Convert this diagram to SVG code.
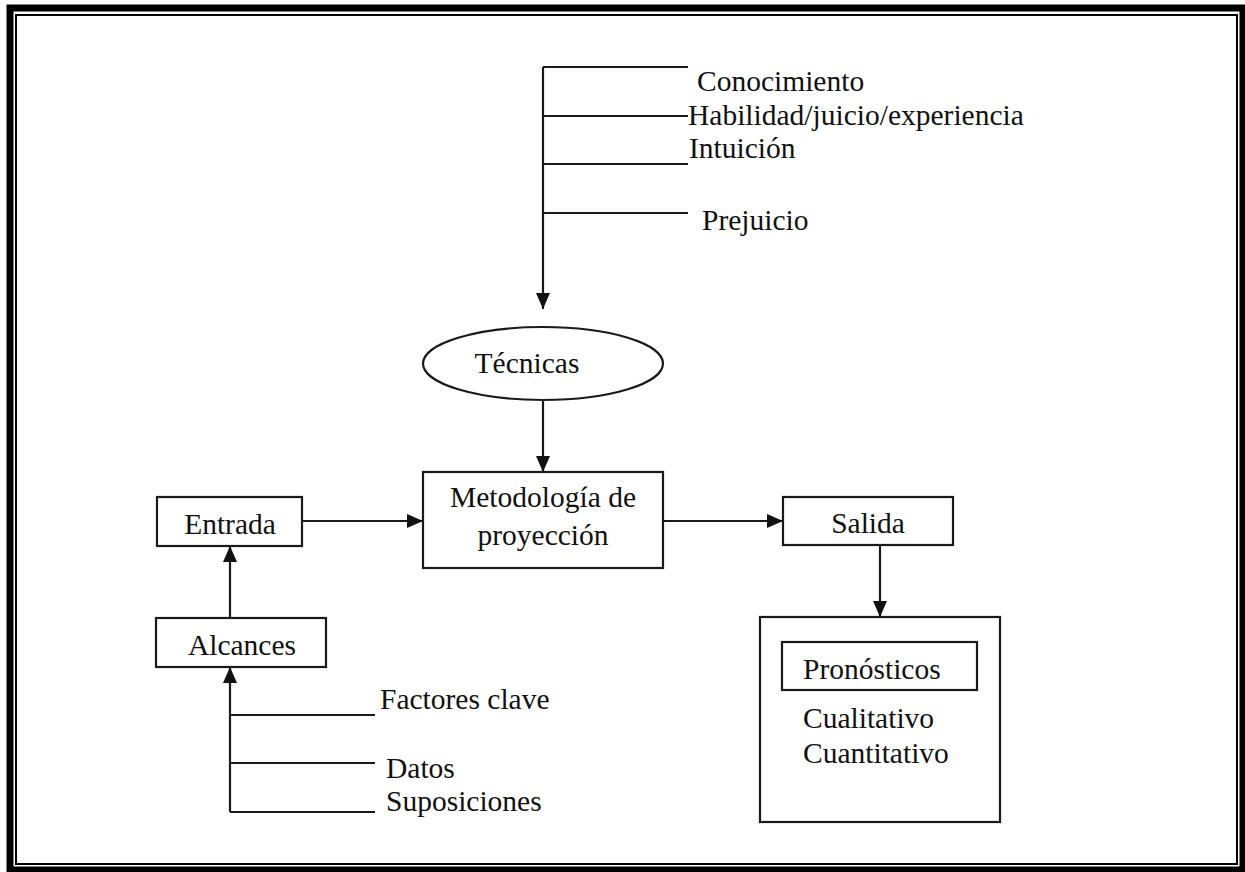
<svg xmlns="http://www.w3.org/2000/svg" width="1245" height="872" viewBox="0 0 1245 872">
  <style>
    .frame-outer { fill: none; stroke: #000; stroke-width: 7; }
    .frame-inner { fill: none; stroke: #000; stroke-width: 2; }
    .box { fill: #fff; stroke: #1a1a1a; stroke-width: 2.2; }
    .line { fill: none; stroke: #1a1a1a; stroke-width: 2.2; }
    .arrow { fill: none; stroke: #1a1a1a; stroke-width: 2.2; marker-end: url(#head); }
    text { font-family: "Liberation Serif", "Times New Roman", serif; font-size: 29.5px; fill: #111; }
    .c { text-anchor: middle; }
  </style>
  <defs>
    <marker id="head" viewBox="0 0 16 14" refX="16" refY="7" markerWidth="16" markerHeight="14" markerUnits="userSpaceOnUse" orient="auto">
      <path d="M0,0 L16,7 L0,14 Z" fill="#111"/>
    </marker>
  </defs>

  <!-- double page frame -->
  <rect class="frame-outer" x="10" y="8" width="1233" height="862"/>
  <rect class="frame-inner" x="16" y="15" width="1221" height="849"/>

  <!-- connectors -->
  <g id="connectors">
    <!-- upper bracket feeding the techniques -->
    <path class="arrow" d="M543,67 L543,309"/>
    <path class="line" d="M543,67 H688 M543,116 H688 M543,164 H688 M543,213 H688"/>
    <path class="arrow" d="M543,400 L543,472"/>
    <path class="arrow" d="M302,521 L423,521"/>
    <path class="arrow" d="M663,521 L783,521"/>
    <path class="arrow" d="M880,545 L880,617"/>
    <path class="arrow" d="M230,618 L230,546"/>
    <!-- lower bracket feeding the scopes -->
    <path class="arrow" d="M230,812 L230,667"/>
    <path class="line" d="M230,715 H375 M230,763 H375 M230,812 H375"/>
  </g>

  <g id="factors-top">
    <text x="697" y="91">Conocimiento</text>
    <text x="688" y="125">Habilidad/juicio/experiencia</text>
    <text x="689" y="158">Intuición</text>
    <text x="702" y="230">Prejuicio</text>
  </g>

  <g id="tecnicas">
    <ellipse class="box" cx="543" cy="363.5" rx="120" ry="36.5"/>
    <text class="c" x="527" y="373">Técnicas</text>
  </g>

  <g id="metodologia">
    <rect class="box" x="423" y="472" width="240" height="96"/>
    <text class="c" x="543" y="507">Metodología de</text>
    <text class="c" x="543" y="545">proyección</text>
  </g>

  <g id="entrada">
    <rect class="box" x="157" y="497" width="145" height="49"/>
    <text class="c" x="230" y="534">Entrada</text>
  </g>

  <g id="alcances">
    <rect class="box" x="156" y="618" width="170" height="49"/>
    <text class="c" x="242" y="655">Alcances</text>
  </g>

  <g id="factors-bottom">
    <text x="380" y="709">Factores clave</text>
    <text x="386" y="778">Datos</text>
    <text x="386" y="811">Suposiciones</text>
  </g>

  <g id="salida">
    <rect class="box" x="783" y="497" width="170" height="48"/>
    <text class="c" x="868" y="533">Salida</text>
  </g>

  <g id="pronosticos">
    <rect class="box" x="760" y="617" width="240" height="205"/>
    <rect class="box" x="782" y="642" width="195" height="48"/>
    <text x="803" y="679">Pronósticos</text>
    <text x="803" y="728">Cualitativo</text>
    <text x="803" y="763">Cuantitativo</text>
  </g>
</svg>
